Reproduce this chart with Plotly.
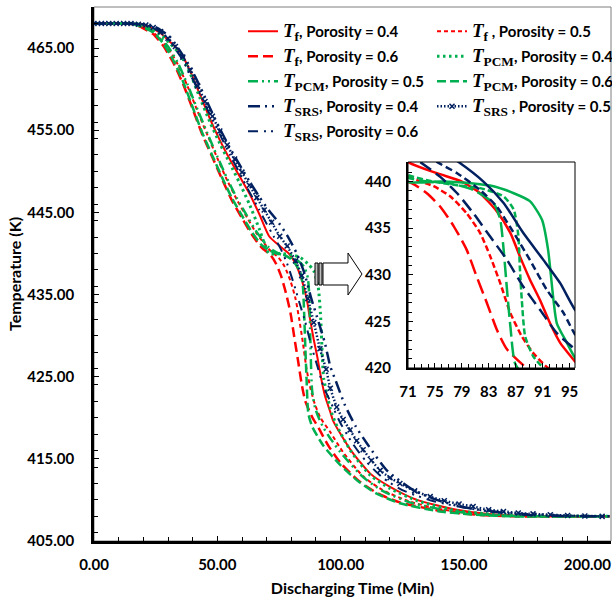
import plotly.graph_objects as go

# ---------------- data ----------------
t_f_04 = [0, 10, 19, 23, 27, 31, 35, 39, 43, 47, 51, 55, 59, 63, 67, 71, 75.3, 79, 81.7, 84.2, 86.2, 87.6, 89.1, 90.6, 92.1, 93.6, 95.8, 97, 104, 112, 120, 131, 147, 160, 175, 209]
T_f_04 = [468.0, 468.0, 467.9, 467.5, 466.8, 465.7, 464.5, 462.2, 459.3, 456.4, 453.8, 451.5, 449.4, 447.3, 444.8, 442.1, 440.9, 440.0, 438.75, 436.8, 434.5, 432.0, 429.5, 427.3, 424.8, 422.7, 420.7, 419.6, 416.1, 413.2, 411.6, 410.0, 408.8, 408.3, 408.05, 408.0]

t_f_05 = [0, 10, 18, 22, 26, 30, 34, 38, 42, 46, 50, 54, 58, 62, 66, 71, 74.8, 77.3, 79.7, 81.7, 83.2, 84.7, 86.2, 87.9, 89.6, 91.8, 95.7, 101, 109, 117, 128, 140, 155, 170, 209]
T_f_05 = [468.0, 468.0, 467.9, 467.3, 466.4, 465.0, 463.0, 460.3, 457.3, 454.4, 451.6, 448.9, 446.5, 444.4, 442.4, 440.5, 439.5, 438.4, 436.6, 434.5, 432.0, 429.1, 425.9, 423.4, 421.6, 420.0, 418.3, 415.8, 412.9, 411.2, 409.8, 408.9, 408.3, 408.05, 408.0]

t_f_06 = [0, 10, 16, 20, 24, 28, 32, 36, 40, 44, 48, 52, 56, 60, 64, 68, 71.6, 73.8, 75.8, 77.8, 79.7, 81.2, 82.7, 84.2, 85.7, 88.6, 91, 95, 100, 107, 115, 124, 140, 155, 170, 209]
T_f_06 = [468.0, 468.0, 467.9, 467.4, 466.7, 465.3, 463.3, 460.7, 457.6, 454.4, 451.7, 449.0, 446.4, 444.3, 442.3, 440.7, 439.8, 438.75, 437.3, 435.2, 432.7, 429.8, 427.0, 424.1, 422.0, 420.0, 418.8, 416.6, 414.5, 412.4, 410.8, 409.7, 408.7, 408.2, 408.0, 408.0]

t_pcm_04 = [0, 10, 19, 23, 27, 31, 35, 39, 43, 47, 51, 55, 59, 63, 67, 71, 75.8, 80.7, 83.7, 86.7, 89.1, 90.9, 91.8, 92.6, 93.1, 94.6, 95.8, 98, 104, 112, 120, 131, 147, 160, 175, 209]
T_pcm_04 = [468.0, 468.0, 467.9, 467.4, 466.7, 465.5, 464.2, 461.9, 458.9, 456.0, 453.4, 451.0, 448.6, 446.0, 443.0, 440.0, 440.0, 439.8, 439.5, 438.75, 437.9, 435.9, 432.7, 427.3, 424.8, 422.7, 421.1, 419.3, 416.0, 413.0, 411.4, 409.9, 408.7, 408.3, 408.05, 408.0]

t_pcm_05 = [0, 10, 18, 22, 26, 30, 34, 38, 42, 46, 50, 54, 58, 62, 66, 71, 74.8, 78.3, 81.7, 85.2, 86.7, 87.4, 87.6, 87.9, 88.4, 89.6, 91.1, 93, 96, 101, 109, 117, 128, 140, 155, 170, 209]
T_pcm_05 = [468.0, 468.0, 467.9, 467.4, 466.6, 465.2, 463.2, 460.5, 457.5, 454.6, 451.8, 449.1, 446.7, 444.6, 442.6, 440.7, 440.0, 439.6, 439.3, 438.4, 437.0, 434.1, 430.9, 427.3, 423.4, 421.25, 420.0, 418.8, 417.4, 415.4, 412.8, 411.1, 409.7, 408.9, 408.3, 408.05, 408.0]

t_pcm_06 = [0, 10, 16, 20, 24, 28, 32, 36, 40, 44, 48, 52, 56, 60, 64, 68, 71, 73.8, 77.3, 80.7, 83.7, 84.7, 85.2, 85.7, 86.2, 86.9, 88.5, 93, 100, 107, 115, 124, 140, 155, 170, 209]
T_pcm_06 = [468.0, 468.0, 467.9, 467.5, 466.9, 465.6, 463.6, 461.0, 457.8, 454.6, 451.9, 449.2, 446.7, 444.6, 442.6, 441.0, 440.4, 440.0, 439.8, 439.1, 437.7, 435.9, 432.7, 428.4, 424.5, 420.5, 418.9, 416.6, 414.2, 412.3, 410.7, 409.6, 408.6, 408.2, 408.0, 408.0]

t_srs_04 = [0, 10, 20, 23, 27, 31, 35, 39, 43, 47, 51, 55, 59, 63, 67, 71, 75, 78.3, 82.2, 85.2, 88.1, 91.1, 93.6, 95.8, 98, 101.8, 106, 110.6, 118.7, 129.4, 139, 150, 160.6, 175, 190, 209]
T_srs_04 = [468.0, 468.0, 467.9, 467.8, 467.2, 466.3, 464.6, 462.7, 460.3, 457.7, 455.2, 452.9, 450.8, 448.8, 446.9, 445.2, 443.7, 442.2, 440.0, 437.7, 434.5, 431.6, 429.1, 426.25, 424.5, 421.5, 419.0, 416.9, 413.6, 411.2, 410.0, 409.1, 408.6, 408.2, 408.05, 408.0]

t_srs_05 = [0, 3, 6, 9, 12, 15, 18, 21, 24, 27, 30, 33, 36, 39, 42, 45, 48, 51, 54, 57, 60, 63, 66, 69, 72, 75.3, 78.3, 81.7, 84.2, 86.7, 89.1, 91.6, 94.1, 95.8, 98.4, 101, 103.8, 106.5, 109.1, 112.5, 116, 120, 124, 130, 136.3, 142, 148, 153.7, 160, 166, 172, 178, 185, 192, 199, 206]
T_srs_05 = [468.0, 468.0, 468.0, 468.0, 468.0, 468.0, 467.9, 467.8, 467.5, 467.0, 466.2, 465.2, 463.9, 462.3, 460.4, 458.5, 456.7, 454.9, 453.2, 451.5, 449.9, 448.3, 446.8, 445.3, 443.8, 442.1, 440.9, 439.1, 437.3, 434.5, 431.6, 428.4, 425.9, 423.6, 421.3, 419.8, 418.5, 417.2, 416.1, 414.8, 413.6, 412.7, 412.0, 411.1, 410.4, 409.9, 409.5, 409.2, 408.8, 408.6, 408.4, 408.3, 408.2, 408.1, 408.05, 408.0]

t_srs_06 = [0, 10, 20, 23, 27, 31, 35, 39, 43, 47, 51, 55, 59, 63, 67, 70, 72.8, 75.8, 78.3, 80.7, 83.2, 85.7, 88.1, 90.6, 93.1, 95.8, 100, 105, 110, 117, 125, 137, 153, 170, 190, 209]
T_srs_06 = [468.0, 468.0, 467.9, 467.6, 466.9, 465.7, 464.0, 461.8, 459.4, 456.9, 454.5, 452.1, 449.8, 447.5, 445.3, 443.6, 442.1, 440.5, 438.75, 436.6, 434.1, 431.6, 428.75, 426.25, 423.75, 422.0, 419.3, 416.8, 414.8, 412.7, 411.2, 409.9, 408.9, 408.4, 408.1, 408.0]

x_major_ticks = [0, 50, 100, 150, 200]
y_major_ticks = [405, 415, 425, 435, 445, 455, 465]
inset_x_ticks = [71, 75, 79, 83, 87, 91, 95]
inset_y_ticks = [420, 425, 430, 435, 440]

RED = "#FF0000"
GREEN = "#00B050"
NAVY = "#002060"
FONT = "Lato"


def label(sub, por, extra=""):
    return ('<span style="font-family:Liberation Serif;font-size:19px"><i>T</i></span>'
            '<span style="font-family:Liberation Serif;font-size:19px"><sub>' + sub + '</sub></span>'
            + extra + ', Porosity = ' + por)


series = [
    # t, T, name, color, main dash, main width, inset dash, legend, mode
    (t_f_04, T_f_04, label("f", "0.4"), RED, "solid", 2, "solid", "legend", "lines"),
    (t_f_05, T_f_05, label("f", "0.5", " "), RED, "4px,3px", 2, "6px,3px", "legend2", "lines"),
    (t_f_06, T_f_06, label("f", "0.6"), RED, "10px,5px", 2.5, "15px,6px", "legend", "lines"),
    (t_pcm_04, T_pcm_04, label("PCM", "0.4"), GREEN, "2.5px,3.5px", 3, "solid", "legend2", "lines"),
    (t_pcm_05, T_pcm_05, label("PCM", "0.5"), GREEN, "10px,4px,2px,4px,2px,4px", 2.5, "6px,3px", "legend", "lines"),
    (t_pcm_06, T_pcm_06, label("PCM", "0.6"), GREEN, "9px,4px", 2.5, "15px,5px", "legend2", "lines"),
    (t_srs_04, T_srs_04, label("SRS", "0.4"), NAVY, "12px,5px,2px,5px,2px,5px", 2.5, "solid", "legend", "lines"),
    (t_srs_05, T_srs_05, label("SRS", "0.5", " "), NAVY, "1.5px,2px", 2.5, "7px,4px", "legend2", "lines+markers"),
    (t_srs_06, T_srs_06, label("SRS", "0.6"), NAVY, "10px,6px,2px,5px,2px,6px", 2, "13px,6px", "legend", "lines"),
]

fig = go.Figure()
for i, (t, T, name, col, dash, w, idash, leg, mode) in enumerate(series):
    kw = {}
    if mode == "lines+markers":
        kw["marker"] = dict(symbol="x-thin", size=5, color=col, line=dict(color=col, width=1.5))
    fig.add_trace(go.Scatter(x=t, y=T, mode=mode, name=name, legend=leg, legendgroup=f"g{i}",
                             line=dict(color=col, width=w, dash=dash, shape="spline", smoothing=0.6),
                             xaxis="x", yaxis="y", **kw))
for t, T, name, col, dash, w, idash, leg, mode in series:
    fig.add_trace(go.Scatter(x=t, y=T, mode="lines", showlegend=False,
                             line=dict(color=col, width=2.5, dash=idash, shape="spline", smoothing=0.6),
                             xaxis="x2", yaxis="y2"))

W, H = 612, 607
ML, MR, MT, MB = 94, 1, 7, 66
PW, PH = W - ML - MR, H - MT - MB


def px(x):
    return (x - ML) / PW


def py(y):
    return (H - MB - y) / PH


tickfont = dict(family=FONT, size=15, color="black", weight="bold")
legfont = dict(family=FONT, size=15, color="black", weight="bold")
fig.update_layout(
    width=W, height=H,
    margin=dict(l=ML, r=MR, t=MT, b=MB, autoexpand=False),
    paper_bgcolor="white", plot_bgcolor="white",
    xaxis=dict(range=[0, 209.6], tickvals=x_major_ticks, tickformat=".2f",
               ticks="inside", ticklen=5, tickwidth=1, tickcolor="black",
               minor=dict(dtick=10, ticks="inside", ticklen=4, tickcolor="black"),
               showline=True, linecolor="black", linewidth=2.5, showgrid=False, zeroline=False,
               tickfont=tickfont, ticklabelstandoff=8,
               title=dict(text="Discharging Time (Min)", font=dict(family=FONT, size=16, color="black", weight="bold"), standoff=12)),
    yaxis=dict(range=[405, 470], tickvals=y_major_ticks, tickformat=".2f",
               ticks="inside", ticklen=5, tickwidth=1, tickcolor="black",
               minor=dict(dtick=2, ticks="inside", ticklen=4, tickcolor="black"),
               showline=True, linecolor="black", linewidth=2.5, showgrid=False, zeroline=False,
               tickfont=tickfont, ticklabelstandoff=14,
               title=dict(text="Temperature (K)", font=dict(family=FONT, size=16, color="black", weight="bold"), standoff=2)),
    xaxis2=dict(domain=[px(408), px(575)], anchor="y2", range=[71, 95.8], tickvals=inset_x_ticks,
                ticks="inside", ticklen=5, tickcolor="black",
                minor=dict(dtick=1, ticks="inside", ticklen=4, tickcolor="black"),
                showline=True, linecolor="black", linewidth=2, mirror=False, showgrid=False, zeroline=False,
                tickfont=dict(family=FONT, size=15, color="black", weight="bold"), ticklabelstandoff=9),
    yaxis2=dict(domain=[py(368), py(162)], anchor="x2", range=[420, 442.1], tickvals=inset_y_ticks,
                ticks="inside", ticklen=5, tickcolor="black",
                minor=dict(dtick=1, ticks="inside", ticklen=4, tickcolor="black"),
                showline=True, linecolor="black", linewidth=2, showgrid=False, zeroline=False,
                tickfont=dict(family=FONT, size=15, color="black", weight="bold"), ticklabelstandoff=12),
    legend=dict(x=px(243), y=py(15), xanchor="left", yanchor="top", bgcolor="rgba(0,0,0,0)",
                font=legfont, tracegroupgap=2.5),
    legend2=dict(x=px(432), y=py(15), xanchor="left", yanchor="top", bgcolor="rgba(0,0,0,0)",
                 font=legfont, tracegroupgap=2.5),
    showlegend=True,
)

shapes = []
# main frame (thin grey top/right)
shapes.append(dict(type="rect", xref="paper", yref="paper", x0=0, x1=1, y0=0, y1=1,
                   line=dict(color="#7f7f7f", width=1), layer="below"))
# inset frame (thin top/right)
shapes.append(dict(type="rect", xref="paper", yref="paper", x0=px(408), x1=px(575), y0=py(368), y1=py(162),
                   line=dict(color="black", width=1), fillcolor="rgba(0,0,0,0)"))
# arrow
ax = [323, 348, 348, 362, 348, 348, 323]
ay = [263, 263, 253, 274, 295, 285, 285]
path = "M " + " L ".join(f"{px(a):.5f},{py(b):.5f}" for a, b in zip(ax, ay)) + " Z"
shapes.append(dict(type="path", xref="paper", yref="paper", path=path,
                   line=dict(color="black", width=1), fillcolor="white"))
for x0, x1 in [(315, 318), (319, 322)]:
    shapes.append(dict(type="rect", xref="paper", yref="paper", x0=px(x0), x1=px(x1), y0=py(285), y1=py(263),
                       line=dict(color="black", width=1), fillcolor="#bfbfbf"))
fig.update_layout(shapes=shapes)

fig.write_html("out.html")
